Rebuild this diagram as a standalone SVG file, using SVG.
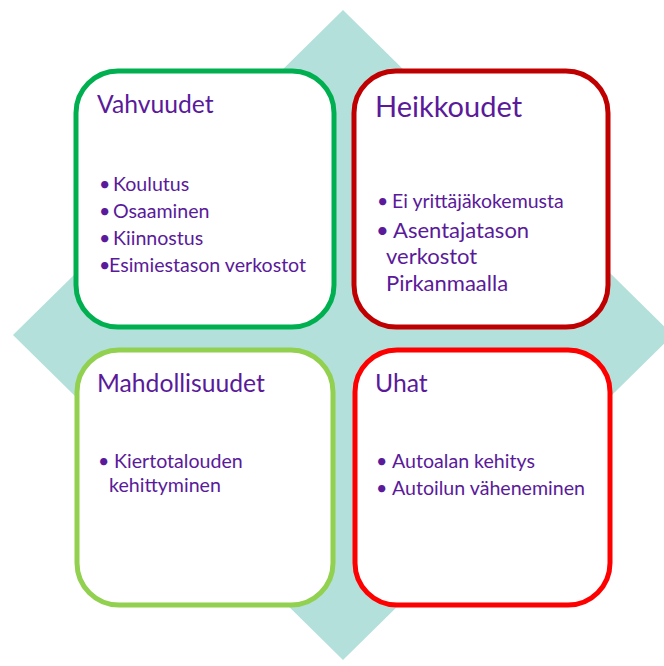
<svg xmlns="http://www.w3.org/2000/svg" width="664" height="666" viewBox="0 0 664 666">
<style>
.box{fill:#fff;stroke-width:5}
text{font-family:Lato,"Open Sans","Liberation Sans",sans-serif;fill:#5a1a9a}
.h{font-size:24.7px}
.b{font-size:19.6px}
</style>
<rect width="664" height="666" fill="#fff"/>
<polygon id="diamond" points="343,10 673,335 343,660 13,335" fill="#b3e0da"/>
<g id="vahvuudet">
<rect class="box" x="76" y="71" width="258" height="256" rx="42" stroke="#00b050"/>
<text class="h" x="97" y="113">Vahvuudet</text>
<text class="b"><tspan x="99" y="191">•</tspan><tspan x="113" y="191">Koulutus</tspan><tspan x="99" y="218">•</tspan><tspan x="113" y="218">Osaaminen</tspan><tspan x="99" y="245">•</tspan><tspan x="113" y="245">Kiinnostus</tspan><tspan x="99" y="272">•</tspan><tspan x="109" y="272">Esimiestason verkostot</tspan></text>
</g>
<g id="heikkoudet">
<rect class="box" x="354" y="71" width="254" height="256" rx="42" stroke="#c00000"/>
<text x="375" y="117" font-size="29">Heikkoudet</text>
<text font-size="19.5"><tspan x="377" y="208">•</tspan><tspan x="392" y="208">Ei yrittäjäkokemusta</tspan></text>
<text font-size="22"><tspan x="376" y="238">•</tspan><tspan x="393" y="238">Asentajatason</tspan><tspan x="386" y="264">verkostot</tspan><tspan x="386" y="291">Pirkanmaalla</tspan></text>
</g>
<g id="mahdollisuudet">
<rect class="box" x="77" y="350" width="256" height="255" rx="42" stroke="#92d050"/>
<text class="h" x="97" y="392">Mahdollisuudet</text>
<text class="b"><tspan x="98" y="468">•</tspan><tspan x="114" y="468">Kiertotalouden</tspan><tspan x="109" y="492">kehittyminen</tspan></text>
</g>
<g id="uhat">
<rect class="box" x="355" y="350" width="255" height="255" rx="42" stroke="#ff0000"/>
<text class="h" x="375" y="392">Uhat</text>
<text class="b"><tspan x="376" y="468">•</tspan><tspan x="392" y="468">Autoalan kehitys</tspan><tspan x="376" y="495">•</tspan><tspan x="392" y="495">Autoilun väheneminen</tspan></text>
</g>
<g id="connectors"/>
</svg>
